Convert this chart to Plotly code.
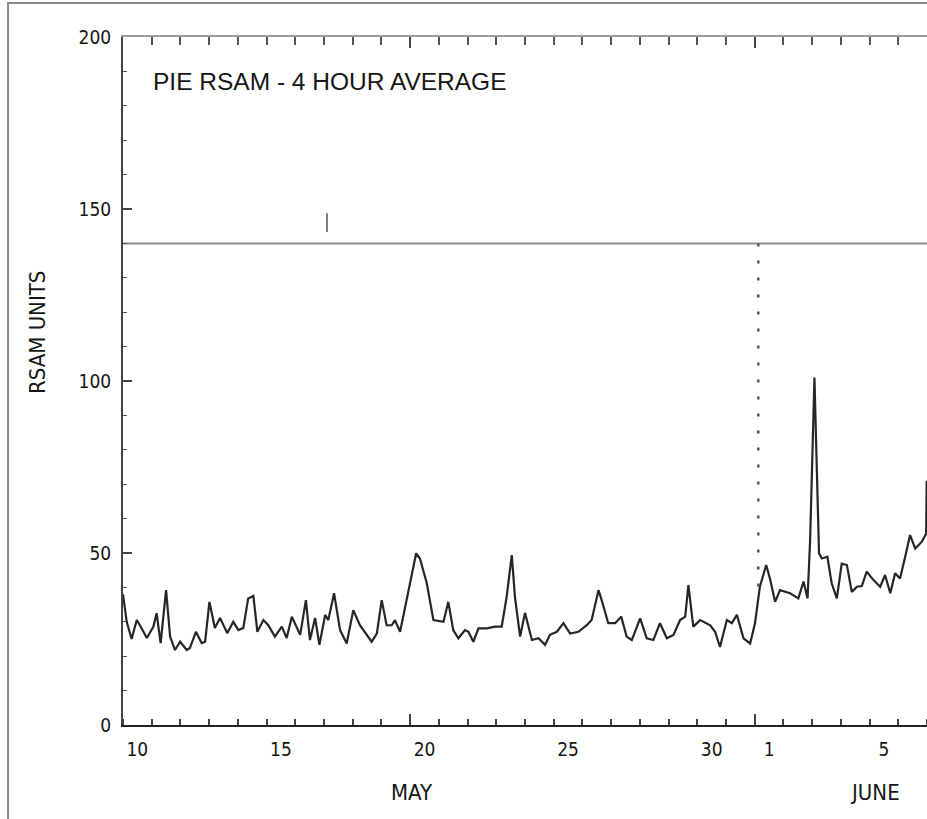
import pandas as pd
import plotly.graph_objects as go

# ---- data ----
BASE_DATE = "1991-05-10"          # start of x range (May 10, 00:00)
END_DATE = "1991-06-07"           # end of x range
DAY_OFFSET = [0.00, 0.13, 0.30, 0.48, 0.59, 0.83, 1.06, 1.17, 1.31, 1.50, 1.64, 1.81, 1.99, 2.22, 2.33,
              2.54, 2.74, 2.86, 3.01, 3.20, 3.38, 3.63, 3.84, 4.02, 4.19, 4.36, 4.54, 4.68, 4.89, 5.06,
              5.29, 5.53, 5.70, 5.88, 6.17, 6.37, 6.51, 6.69, 6.84, 7.04, 7.15, 7.35, 7.56, 7.79, 8.02,
              8.25, 8.66, 8.84, 9.01, 9.18, 9.36, 9.47, 9.65, 9.94, 10.21, 10.34, 10.58, 10.81, 11.16,
              11.33, 11.50, 11.68, 11.91, 12.03, 12.20, 12.38, 12.67, 12.96, 13.19, 13.36, 13.54, 13.65,
              13.83, 14.00, 14.24, 14.47, 14.70, 14.87, 15.11, 15.34, 15.57, 15.86, 16.15, 16.32, 16.56,
              16.67, 16.90, 17.14, 17.35, 17.54, 17.72, 18.01, 18.24, 18.47, 18.70, 18.94, 19.17, 19.40,
              19.58, 19.69, 19.86, 20.10, 20.45, 20.62, 20.79, 21.03, 21.20, 21.38, 21.61, 21.84, 22.01,
              22.18, 22.40, 22.54, 22.71, 22.88, 23.23, 23.52, 23.70, 23.84, 23.93, 24.08, 24.16, 24.24,
              24.34, 24.53, 24.68, 24.86, 25.03, 25.21, 25.38, 25.56, 25.73, 25.90, 26.13, 26.37, 26.54,
              26.72, 26.89, 27.06, 27.24, 27.41, 27.59, 27.82, 27.97, 27.99]
RSAM = [38.0, 30.0, 25.0, 30.5, 29.0, 25.3, 28.6, 32.5, 23.8, 39.2, 25.7, 21.8, 24.2, 21.8, 22.4,
        27.1, 23.8, 24.2, 35.8, 28.2, 31.1, 26.7, 30.0, 27.6, 28.2, 36.8, 37.5, 27.1, 30.5, 29.0,
        25.7, 28.6, 25.3, 31.5, 26.2, 36.3, 24.7, 31.1, 23.3, 32.0, 30.5, 38.3, 27.6, 23.7, 33.4,
        29.0, 24.2, 26.6, 36.3, 29.0, 29.0, 30.5, 27.1, 39.2, 49.9, 48.4, 41.2, 30.5, 30.0,
        35.8, 27.6, 25.2, 27.6, 27.1, 24.2, 28.1, 28.1, 28.6, 28.6, 37.2, 49.4, 37.2,
        25.7, 32.6, 24.7, 25.2, 23.3, 26.2, 27.1, 29.6, 26.6, 27.1, 29.0, 30.5, 39.2,
        36.3, 29.6, 29.6, 31.5, 25.7, 24.7, 31.0, 25.2, 24.7, 29.6, 25.2, 26.2, 30.5,
        31.5, 40.7, 28.6, 30.5, 29.0, 27.1, 22.7, 30.5, 29.6, 32.0, 25.2, 23.7, 29.6,
        40.2, 46.5, 42.2, 35.8, 39.2, 38.3, 36.8, 41.7, 36.8, 53.8, 101.0, 77.0, 49.9,
        48.4, 48.9, 41.2, 36.8, 46.9, 46.5, 38.7, 40.2, 40.4, 44.6, 42.2, 40.2, 43.6,
        38.3, 44.1, 42.6, 48.9, 55.2, 51.3, 53.3, 55.6, 71.0]

X_TICK_DAYS = ["1991-05-10 12:00", "1991-05-15 12:00", "1991-05-20 12:00", "1991-05-25 12:00",
               "1991-05-30 12:00", "1991-06-01 12:00", "1991-06-05 12:00"]
X_TICK_TEXT = ["10", "15", "20", "25", "30", "1", "5"]
LONG_TICK_DAYS = ["1991-05-20", "1991-06-01"]
Y_TICKS = [0, 50, 100, 150, 200]

THRESHOLD = 140
EVENT_TIME = "1991-06-01 03:00"
EVENT_LEVEL = 40
MARK_TIME = "1991-05-17 02:30"
MARK_RANGE = [143.3, 148.8]

TITLE = "PIE RSAM - 4 HOUR AVERAGE"
Y_TITLE = "RSAM UNITS"
MONTHS = ["MAY", "JUNE"]

times = [pd.Timestamp(BASE_DATE) + pd.Timedelta(days=d) for d in DAY_OFFSET]
day_ticks = list(pd.date_range(BASE_DATE, END_DATE, freq="D"))

FONT = "DejaVu Sans Condensed, Liberation Sans, Arial, sans-serif"
TXT = "#151515"
DAY_MS = 86400000

fig = go.Figure()
fig.add_trace(go.Scatter(x=times, y=RSAM, mode="lines",
                         line=dict(color="#262626", width=2.2), showlegend=False,
                         hoverinfo="skip"))
# threshold line drawn on the top axis overlay
fig.add_trace(go.Scatter(x=[BASE_DATE, END_DATE], y=[THRESHOLD, THRESHOLD], mode="lines",
                         xaxis="x2", line=dict(color="#8c8c8c", width=2), showlegend=False,
                         hoverinfo="skip"))
# dotted event line
fig.add_trace(go.Scatter(x=[EVENT_TIME, EVENT_TIME], y=[THRESHOLD, EVENT_LEVEL], mode="lines",
                         xaxis="x3", line=dict(color="#555555", width=2.5, dash="3px,14px"),
                         showlegend=False, hoverinfo="skip"))
# small mark
fig.add_trace(go.Scatter(x=[MARK_TIME, MARK_TIME], y=MARK_RANGE, mode="lines",
                         line=dict(color="#555555", width=1.5), showlegend=False,
                         hoverinfo="skip"))

xr = [BASE_DATE, END_DATE]
fig.update_layout(
    width=927, height=819,
    margin=dict(l=123, r=0, t=37, b=94),
    paper_bgcolor="white", plot_bgcolor="white",
    font=dict(family=FONT, color=TXT, size=19),
    xaxis=dict(type="date", range=xr, tickmode="array", tickvals=X_TICK_DAYS,
               ticktext=X_TICK_TEXT, ticks="", showgrid=False, zeroline=False,
               showline=True, linecolor="#222222", linewidth=2,
               tickfont=dict(size=19, family=FONT, color=TXT), ticklabelstandoff=6,
               minor=dict(ticks="inside", ticklen=6, tickwidth=1.5, tickcolor="#444444",
                          dtick=DAY_MS, tick0=BASE_DATE, showgrid=False)),
    xaxis2=dict(type="date", range=xr, overlaying="x", side="top", anchor="y",
                tickmode="array", tickvals=day_ticks, ticks="inside", ticklen=8,
                tickwidth=1.5, tickcolor="#555555", showticklabels=False, showgrid=False,
                zeroline=False, showline=True, linecolor="#9a9a9a", linewidth=2),
    xaxis3=dict(type="date", range=xr, overlaying="x", side="bottom", anchor="y",
                tickmode="array", tickvals=LONG_TICK_DAYS, ticks="inside", ticklen=11,
                tickwidth=1.5, tickcolor="#444444", showticklabels=False, showgrid=False,
                zeroline=False, showline=False, mirror="ticks"),
    yaxis=dict(range=[0, 200], tickmode="array", tickvals=Y_TICKS, ticks="inside", ticklen=9,
               tickwidth=1.5, tickcolor="#444444", showgrid=False, zeroline=False,
               showline=True, linecolor="#444444", linewidth=2,
               tickfont=dict(size=19, family=FONT, color=TXT), ticklabelstandoff=6,
               minor=dict(ticks="inside", ticklen=4, tickwidth=1.2, tickcolor="#555555",
                          dtick=10, showgrid=False)),
    showlegend=False,
)

fig.add_annotation(text=TITLE, xref="paper", yref="paper", x=0.0348, y=0.9346,
                   xanchor="left", yanchor="middle", showarrow=False,
                   font=dict(size=24.5, family="Liberation Sans, Arial, sans-serif", color=TXT))
fig.add_annotation(text=Y_TITLE, xref="paper", yref="paper", x=-0.1057, y=0.5698,
                   xanchor="center", yanchor="middle", showarrow=False, textangle=-90,
                   font=dict(size=22, family=FONT, color=TXT))
fig.add_annotation(text=MONTHS[0], xref="paper", yref="paper", x=0.3595, y=-0.0974,
                   xanchor="center", yanchor="middle", showarrow=False,
                   font=dict(size=22, family=FONT, color=TXT))
fig.add_annotation(text=MONTHS[1], xref="paper", yref="paper", x=0.9353, y=-0.0974,
                   xanchor="center", yanchor="middle", showarrow=False,
                   font=dict(size=22, family=FONT, color=TXT))

# scanned page frame (left and top edges)
fig.add_shape(type="rect", xref="paper", yref="paper", x0=-0.143, y0=-0.2, x1=1.05, y1=1.0494,
              line=dict(color="#8a8a8a", width=2), layer="below")

fig.write_html("out.html", config={"displayModeBar": False},
               post_script="document.body.style.margin='0';document.body.style.overflow='hidden';")
